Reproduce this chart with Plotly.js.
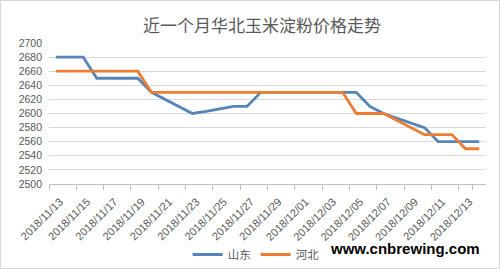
<!DOCTYPE html>
<html>
<head>
<meta charset="utf-8">
<script src="https://cdn.plot.ly/plotly-3.0.1.min.js"></script>
<style>
  html, body { margin: 0; padding: 0; background: #fff; }
  #wrap { position: relative; width: 500px; height: 269px; }
  #chart { width: 500px; height: 269px; }
  #frame { position: absolute; left: 0; top: 0; width: 498px; height: 267px; border: 1px solid #d9d9d9; pointer-events: none; }
</style>
</head>
<body>
<div id="wrap"><div id="chart"></div><div id="frame"></div></div>
<script>
// Categories (daily dates)
const dates = [
  "2018/11/13","2018/11/14","2018/11/15","2018/11/16","2018/11/17","2018/11/18","2018/11/19","2018/11/20",
  "2018/11/21","2018/11/22","2018/11/23","2018/11/24","2018/11/25","2018/11/26","2018/11/27","2018/11/28",
  "2018/11/29","2018/11/30","2018/12/01","2018/12/02","2018/12/03","2018/12/04","2018/12/05","2018/12/06",
  "2018/12/07","2018/12/08","2018/12/09","2018/12/10","2018/12/11","2018/12/12","2018/12/13","2018/12/14"
];
// Series values
const shandong = [
  2680,2680,2680,2650,2650,2650,2650,2630,
  2620,2610,2600,2603,2607,2610,2610,2630,
  2630,2630,2630,2630,2630,2630,2630,2610,
  2600,2593,2587,2580,2560,2560,2560,2560
];
const hebei = [
  2660,2660,2660,2660,2660,2660,2660,2630,
  2630,2630,2630,2630,2630,2630,2630,2630,
  2630,2630,2630,2630,2630,2630,2600,2600,
  2600,2590,2580,2570,2570,2570,2550,2550
];
// Tick labels (every other day)
const tickLabels = dates.filter((d, i) => i % 2 === 0);
const yTicks = [2500,2520,2540,2560,2580,2600,2620,2640,2660,2680,2700];

const seriesNames = ["山东", "河北"];
const colors = ["#5585b8", "#ed7d31"];

const traces = [
  { x: dates, y: shandong, name: seriesNames[0], type: "scatter", mode: "lines",
    line: { color: colors[0], width: 2.8 } },
  { x: dates, y: hebei, name: seriesNames[1], type: "scatter", mode: "lines",
    line: { color: colors[1], width: 2.8 } }
];

const layout = {
  width: 500, height: 269,
  margin: { l: 49, r: 14, t: 43, b: 85, autoexpand: false },
  paper_bgcolor: "#ffffff",
  plot_bgcolor: "#ffffff",
  font: { family: "Liberation Sans, Arial, 'Noto Sans CJK SC', sans-serif", color: "#595959" },
  title: {
    text: "近一个月华北玉米淀粉价格走势",
    font: { family: "'Noto Sans CJK SC', sans-serif", size: 17, color: "#595959" },
    x: 0.524, xref: "container", xanchor: "center",
    y: 0.905, yref: "container", yanchor: "middle"
  },
  xaxis: {
    type: "category",
    categoryorder: "array", categoryarray: dates,
    range: [-0.5, dates.length - 0.5],
    tickmode: "array", tickvals: tickLabels, ticktext: tickLabels,
    tickson: "boundaries",
    ticks: "outside", ticklen: 5, tickcolor: "#bfbfbf", tickwidth: 1,
    tickangle: -45,
    ticklabelshift: 4, ticklabelstandoff: 6,
    tickfont: { size: 11, color: "#595959" },
    showline: true, linecolor: "#bfbfbf", linewidth: 1,
    showgrid: false, zeroline: false,
    automargin: false,
    fixedrange: true
  },
  yaxis: {
    range: [2500, 2700],
    tickmode: "array", tickvals: yTicks,
    ticks: "", ticklabelstandoff: 6,
    tickfont: { size: 10.5, color: "#595959" },
    showgrid: true, gridcolor: "#d9d9d9", gridwidth: 1,
    zeroline: false, showline: false,
    automargin: false,
    fixedrange: true
  },
  showlegend: true,
  legend: {
    orientation: "h",
    x: 0.474, xanchor: "center",
    y: -0.50, yanchor: "middle",
    font: { family: "'Noto Sans CJK SC', sans-serif", size: 11.5, color: "#595959" },
    itemwidth: 30,
    bgcolor: "rgba(0,0,0,0)"
  },
  annotations: [
    {
      text: "<b>www.cnbrewing.com</b>",
      xref: "paper", yref: "paper",
      x: 0.991, xanchor: "right",
      y: -0.46, yanchor: "middle",
      showarrow: false,
      font: { family: "Liberation Sans, Arial, sans-serif", size: 15, color: "#000000" }
    }
  ]
};

Plotly.newPlot("chart", traces, layout, { displayModeBar: false, staticPlot: true });
</script>
</body>
</html>
